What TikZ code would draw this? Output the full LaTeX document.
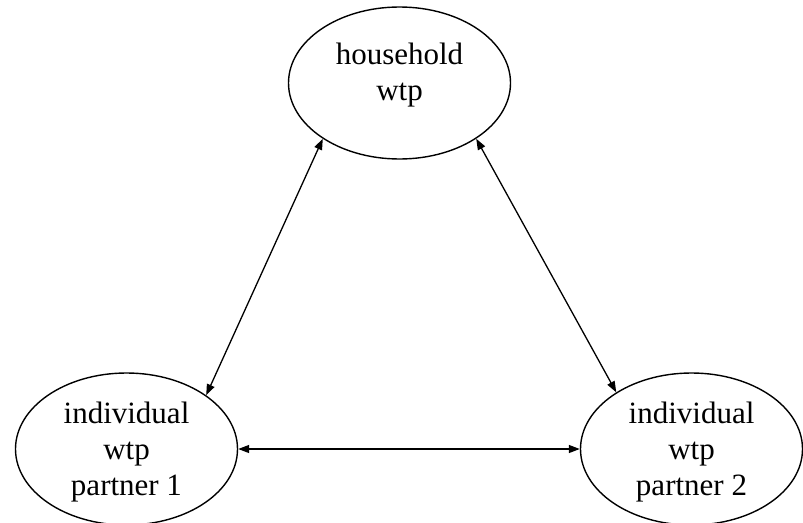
\documentclass[tikz,border=0pt]{standalone}
\usepackage{fontspec}
\setmainfont{Liberation Serif}
\usetikzlibrary{shapes.geometric,arrows.meta}
\begin{document}
\begin{tikzpicture}[x=1pt,y=-1pt,
  wtpnode/.style={ellipse, draw, line width=1.4pt, minimum width=222pt, minimum height=152pt,
    inner sep=0pt},
  wtptext/.style={align=center, inner sep=0pt, font=\fontsize{31}{36}\selectfont},
  link/.style={line width=1.3pt, {Triangle[length=11pt,width=8pt]}-{Triangle[length=11pt,width=8pt]}}]
\useasboundingbox (0,0) rectangle (803,522);
\node[wtpnode] (hh) at (399.5,83) {};
\node[wtpnode] (p1) at (126.5,449) {};
\node[wtpnode] (p2) at (691.5,449) {};
\node[wtptext] (hhtext) at ([yshift=8pt]hh.center) {household\\wtp};
\node[wtptext] (p1text) at ([yshift=-3pt]p1.center) {individual\\wtp\\partner 1};
\node[wtptext] (p2text) at ([yshift=-3pt]p2.center) {individual\\wtp\\partner 2};
\draw[link] (hh.216.6) -- (p1.34.8);
\draw[link] (hh.324.4) -- (p2.143.8);
\draw[link] (p1.east) -- (p2.west);
\end{tikzpicture}
\end{document}
